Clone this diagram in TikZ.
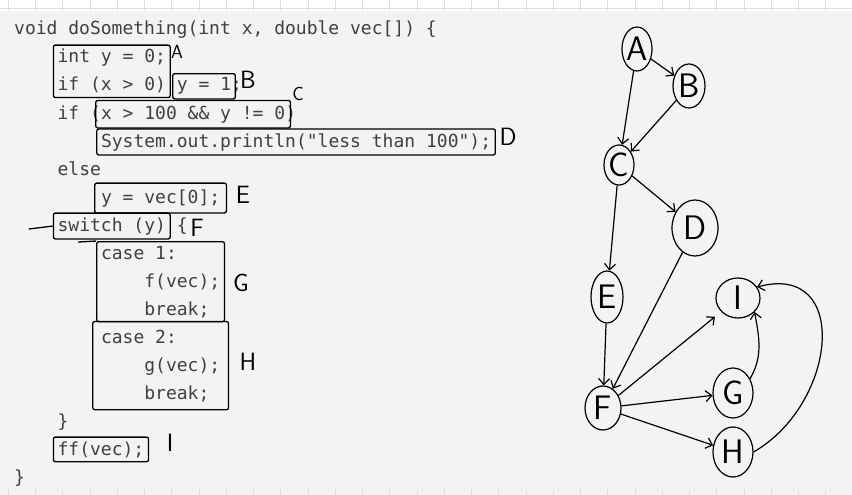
\documentclass[tikz,border=0pt]{standalone}
\usepackage{fontspec}
\setmonofont{DejaVu Sans Mono}
\usetikzlibrary{arrows.meta, shapes.geometric, fit}
\definecolor{codegray}{RGB}{64,64,64}
\definecolor{pagegray}{RGB}{243,243,243}
\definecolor{gridgray}{RGB}{222,222,222}
\newcommand{\cw}{10.85}

\tikzset{
    code/.style={anchor=base west, inner sep=0pt, color=codegray, font=\ttfamily\fontsize{18}{22}\selectfont},
    handbox/.style={draw=black, line width=1.3pt, rounded corners=2pt, inner sep=4pt},
    handline/.style={draw=black, line width=1.3pt},
    handlabel/.style={inner sep=0pt, font=\sffamily\fontsize{25}{25}\selectfont},
    vertex/.style={ellipse, draw=black, line width=1.2pt, inner sep=0pt, font=\sffamily\fontsize{34}{34}\selectfont},
    flow/.style={line width=1.2pt, -{Straight Barb[length=6pt, width=11pt]}},
}

\begin{document}
\begin{tikzpicture}[x=1pt, y=-1pt]
    \useasboundingbox (0, 0) rectangle (852, 495);
    \fill[white] (0, 0) rectangle (852, 11);
    \fill[pagegray] (0, 11) rectangle (852, 495);
    \draw[gridgray, line width=0.8pt] (0, 8) -- (852, 8);
    \foreach \k in {0,...,30} {
        \draw[gridgray, line width=0.8pt] ({8.3+27.25*\k}, 0) -- ++(0, 11);
        \draw[gridgray, line width=0.8pt] ({8.3+27.25*\k}, 490) -- ++(0, 5);
    }

    \begin{scope}
        \node[code] (c0) at (14, 35) {void doSomething(int x, double vec[]) \{};
        \node[code] (c1) at ({14+4*\cw}, 63) {int y = 0;};
        \node[code] (c2a) at ({14+4*\cw}, 91) {if (x > 0)};
        \node[code] (c2b) at ({14+15*\cw}, 91) {y = 1};
        \node[code] (c2c) at ({14+20*\cw}, 91) {;};
        \node[code] (c3a) at ({14+4*\cw}, 119) {if (};
        \node[code] (c3b) at ({14+8*\cw}, 119) {x > 100 \&\& y != 0};
        \node[code] (c3c) at ({14+25*\cw}, 119) {)};
        \node[code] (c4) at ({14+8*\cw}, 147) {System.out.println("less than 100");};
        \node[code] (c5) at ({14+4*\cw}, 175) {else};
        \node[code] (c6) at ({14+8*\cw}, 203) {y = vec[0];};
        \node[code] (c7a) at ({14+4*\cw}, 231) {switch (y)};
        \node[code] (c7b) at ({14+15*\cw}, 231) {\{};
        \node[code] (c8) at ({14+8*\cw}, 259) {case 1:};
        \node[code] (c9) at ({14+12*\cw}, 287) {f(vec);};
        \node[code] (c10) at ({14+12*\cw}, 315) {break;};
        \node[code] (c11) at ({14+8*\cw}, 343) {case 2:};
        \node[code] (c12) at ({14+12*\cw}, 371) {g(vec);};
        \node[code] (c13) at ({14+12*\cw}, 399) {break;};
        \node[code] (c14) at ({14+4*\cw}, 427) {\}};
        \node[code] (c15) at ({14+4*\cw}, 455) {ff(vec);};
        \node[code] (c16) at (14, 483) {\}};
    \end{scope}

    \begin{scope}
        \node[handbox, fit=(c1)(c2a)] (boxA) {};
        \node[handbox, fit=(c2b)] (boxB) {};
        \node[handbox, fit=(c3b), inner sep=5pt] (boxC) {};
        \node[handbox, fit=(c4)] (boxD) {};
        \node[handbox, fit=(c6), inner sep=6pt] (boxE) {};
        \node[handbox, fit=(c7a)] (boxF) {};
        \node[handbox, fit=(c8)(c9)(c10)] (boxG) {};
        \node[handbox, fit=(c11)(c12)(c13), inner sep=8pt] (boxH) {};
        \node[handbox, fit=(c15)] (boxI) {};
        \draw[handline] ([xshift=-24pt, yshift=-3pt]boxF.west) -- (boxF.west);
        \draw[handline] (boxG.north west) -- ++(-18, 1);
        \node[handlabel, font=\sffamily\fontsize{19}{19}\selectfont] (labA) at (177, 52) {A};
        \node[handlabel] (labB) at (248, 80) {B};
        \node[handlabel, font=\sffamily\fontsize{19}{19}\selectfont] (labC) at (298, 94) {C};
        \node[handlabel] (labD) at (508, 137) {D};
        \node[handlabel] (labE) at (243, 195) {E};
        \node[handlabel] (labF) at (197, 228) {F};
        \node[handlabel] (labG) at (241, 283) {G};
        \node[handlabel] (labH) at (248, 362) {H};
        \node[handlabel] (labI) at (170, 443) {I};
    \end{scope}

    \begin{scope}
        \node[vertex, minimum width=30pt, minimum height=44pt] (gA) at (637, 49) {A};
        \node[vertex, minimum width=32pt, minimum height=44pt] (gB) at (689, 86) {B};
        \node[vertex, minimum width=30pt, minimum height=40pt] (gC) at (619, 165) {C};
        \node[vertex, minimum width=46pt, minimum height=56pt] (gD) at (695, 228) {D};
        \node[vertex, minimum width=32pt, minimum height=52pt] (gE) at (607, 297) {E};
        \node[vertex, minimum width=36pt, minimum height=44pt] (gF) at (603, 408) {F};
        \node[vertex, minimum width=44pt, minimum height=40pt] (gI) at (738, 298) {I};
        \node[vertex, minimum width=40pt, minimum height=50pt] (gG) at (733, 393) {G};
        \node[vertex, minimum width=40pt, minimum height=50pt] (gH) at (733, 452) {H};
        \draw[flow] (gA) -- (gB);
        \draw[flow] (gA) -- (gC);
        \draw[flow] (gB) -- (gC);
        \draw[flow] (gC) -- (gD);
        \draw[flow] (gC) -- (gE);
        \draw[flow] (gE) -- (gF);
        \draw[flow] (gD) -- (gF);
        \draw[flow, shorten >=8pt] (gF) -- (gI);
        \draw[flow] (gF) -- (gG);
        \draw[flow] (gF) -- (gH);
        \draw[flow] (gG.40) to[out=60, in=-80] (gI.-40);
        \draw[flow] (gH.0) to[out=30, in=15, looseness=1.5] (gI.30);
    \end{scope}
\end{tikzpicture}
\end{document}
